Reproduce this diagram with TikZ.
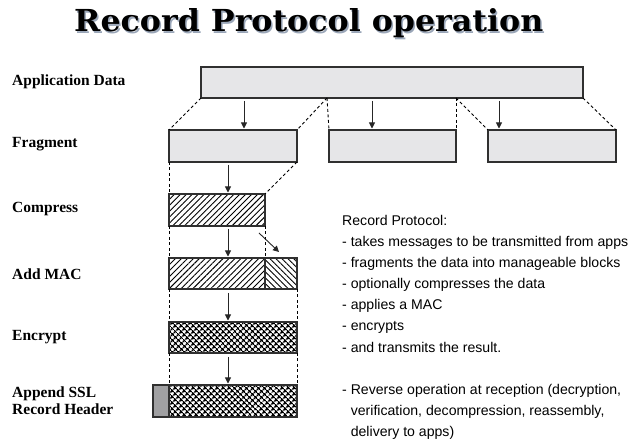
\documentclass[tikz,border=0pt]{standalone}
\usepackage{fontspec}
\setmainfont{Liberation Serif}
\newfontfamily\titlefont{DejaVu Serif}
\newfontfamily\notefont{Liberation Sans}
\usetikzlibrary{arrows.meta,patterns.meta,calc}
\definecolor{boxfill}{HTML}{E6E6E8}
\definecolor{boxline}{HTML}{303030}
\definecolor{hdrfill}{HTML}{A0A0A2}
\definecolor{shadowc}{HTML}{9AA6B8}
\begin{document}
\begin{tikzpicture}[x=1pt,y=-1pt,
  box/.style={draw=boxline,line width=1.3pt,inner sep=0pt,outer sep=0pt,anchor=north west},
  plainbox/.style={box,fill=boxfill},
  hatchbox/.style={box,pattern={Lines[angle=45,distance=4.2pt,line width=0.9pt]}},
  backhatch/.style={box,pattern={Lines[angle=-45,distance=4.2pt,line width=0.9pt]}},
  crossbox/.style={box,pattern={Hatch[angle=45,distance=4pt,line width=1.5pt]}},
  dashline/.style={draw=black,line width=0.9pt,dash pattern=on 3pt off 2.5pt},
  arr/.style={draw=black!85,line width=0.9pt,-{Triangle[length=6pt,width=6pt]},shorten >=1.5pt},
  lbl/.style={anchor=west,inner sep=0pt,font=\fontsize{15.5pt}{17pt}\selectfont\bfseries},
]
\useasboundingbox (0,0) rectangle (641,446);
\fill[white] (0,0) rectangle (641,446);

% title
\node[anchor=base west,inner sep=0pt,text=shadowc] (titleshadow) at (75.5,33.2)
  {\resizebox{469pt}{23pt}{\titlefont\bfseries Record Protocol operation}};
\node[anchor=base west,inner sep=0pt] (title) at (74,31.7)
  {\resizebox{469pt}{23pt}{\titlefont\bfseries Record Protocol operation}};

% left labels
\node[lbl] (lapp) at (12,81.5) {Application Data};
\node[lbl] (lfrag) at (12,144.5) {Fragment};
\node[lbl] (lcomp) at (12,209.5) {Compress};
\node[lbl] (lmac) at (12,274.5) {Add MAC};
\node[lbl] (lenc) at (12,337.5) {Encrypt};
\node[lbl,align=left,anchor=north west] (lhdr) at (12,387) {Append SSL\\Record Header};

% boxes
\node[plainbox,minimum width=382pt,minimum height=31pt] (app) at (201,67) {};
\node[plainbox,minimum width=128pt,minimum height=32pt] (f1) at (169,130) {};
\node[plainbox,minimum width=127pt,minimum height=32pt] (f2) at (329,130) {};
\node[plainbox,minimum width=128pt,minimum height=32pt] (f3) at (488,130) {};
\node[hatchbox,minimum width=96pt,minimum height=32pt] (comp) at (169,194) {};
\node[hatchbox,minimum width=96pt,minimum height=31pt] (macd) at (169,258) {};
\node[backhatch,minimum width=32pt,minimum height=31pt] (mac) at (265,258) {};
\node[crossbox,minimum width=128pt,minimum height=31pt] (enc) at (169,322) {};
\node[box,fill=hdrfill,minimum width=16pt,minimum height=32pt] (hdr) at (153,385) {};
\node[crossbox,minimum width=128pt,minimum height=32pt] (hdata) at (169,385) {};

% dashed guide lines
\coordinate (a1) at (327,98);
\coordinate (a2) at (456,98);
\draw[dashline] (app.south west) -- (f1.north west);
\draw[dashline] (a1) -- (f1.north east);
\draw[dashline] (a1) -- (f2.north west);
\draw[dashline] (a2) -- (f2.north east);
\draw[dashline] (a2) -- (f3.north west);
\draw[dashline] (app.south east) -- (f3.north east);
\draw[dashline] (f1.south west) -- (comp.north west);
\draw[dashline] (f1.south east) -- (comp.north east);
\draw[dashline] (comp.south west) -- (macd.north west);
\draw[dashline] (comp.south east) -- (macd.north east);
\draw[dashline] (macd.south west) -- (enc.north west);
\draw[dashline] (mac.south east) -- (enc.north east);
\draw[dashline] (enc.south west) -- (hdata.north west);
\draw[dashline] (enc.south east) -- (hdata.north east);

% arrows
\coordinate (s1) at (244,101);
\coordinate (s2) at (372,101);
\coordinate (s3) at (499,101);
\draw[arr] (s1) -- (s1 |- f1.north);
\draw[arr] (s2) -- (s2 |- f2.north);
\draw[arr] (s3) -- (s3 |- f3.north);
\coordinate (c1) at (228,165);
\coordinate (c2) at (228,229);
\coordinate (c3) at (228,293);
\coordinate (c4) at (228,357);
\draw[arr] (c1) -- (c1 |- comp.north);
\draw[arr] (c2) -- (c2 |- macd.north);
\draw[arr] (c3) -- (c3 |- enc.north);
\draw[arr] (c4) -- (c4 |- hdata.north);
\coordinate (m0) at (259,233);
\coordinate (m1) at (279,252);
\draw[arr,shorten >=0pt] (m0) -- (m1);

% notes
\node[anchor=north west,inner sep=0pt,align=left,
  font=\notefont\fontsize{14.1pt}{21.1pt}\selectfont] (notes) at (342,215)
  {Record Protocol:\\
   - takes messages to be transmitted from apps\\
   - fragments the data into manageable blocks\\
   - optionally compresses the data\\
   - applies a MAC\\
   - encrypts\\
   - and transmits the result.\\[21.1pt]
   - Reverse operation at reception (decryption,\\
   \phantom{- }verification, decompression, reassembly,\\
   \phantom{- }delivery to apps)};
\end{tikzpicture}
\end{document}
